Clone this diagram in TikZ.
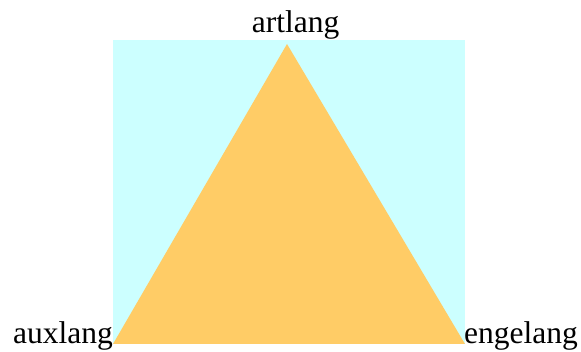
\documentclass[tikz,border=0pt]{standalone}
\usepackage{fontspec}
\setmainfont{Liberation Serif}
\definecolor{bgcyan}{HTML}{CCFFFF}
\definecolor{triorange}{HTML}{FFCC66}
\begin{document}
\begin{tikzpicture}[x=1pt,y=-1pt,
  lab/.style={font=\fontsize{31.5}{31.5}\selectfont, inner sep=0pt, text=black}]
\useasboundingbox (0,0) rectangle (581,352);
\fill[bgcyan] (113,40) rectangle (465,344);
\coordinate (apex) at (287,44);
\coordinate (bl) at (113,344);
\coordinate (br) at (465,344);
\fill[triorange] (apex) -- (br) -- (bl) -- cycle;
\node[lab, anchor=base] (art) at (295.5,33) {artlang};
\node[lab, anchor=base east] (aux) at (113,344) {auxlang};
\node[lab, anchor=base west] (eng) at (464,344) {engelang};
\end{tikzpicture}
\end{document}
